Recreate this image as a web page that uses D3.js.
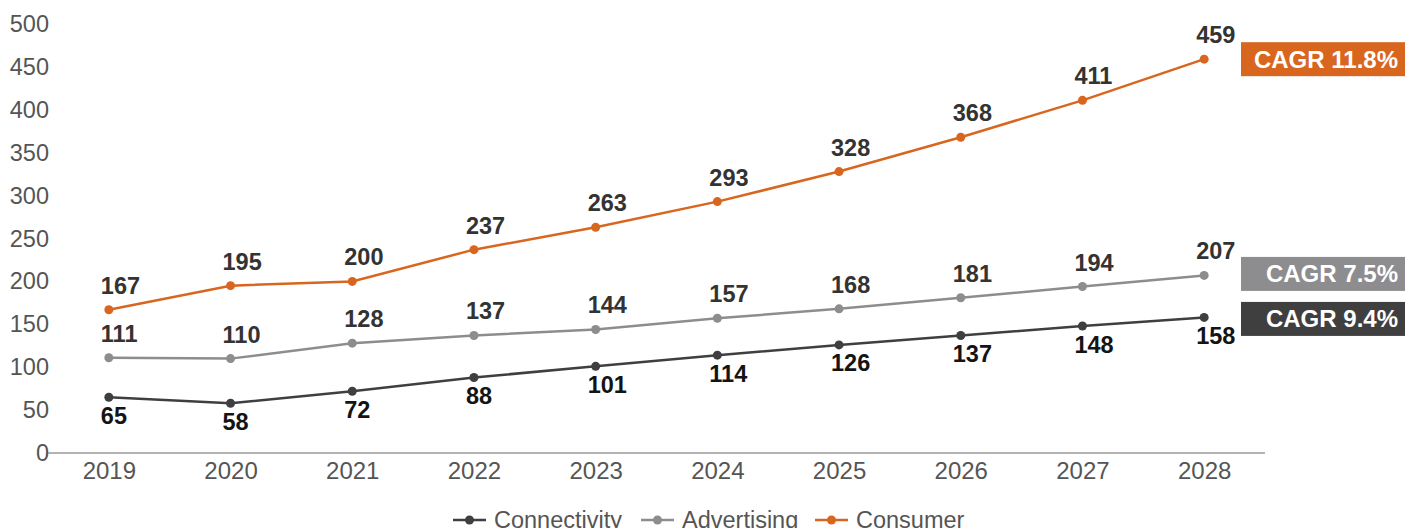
<!DOCTYPE html>
<html>
<head>
<meta charset="utf-8">
<script src="https://cdn.jsdelivr.net/npm/d3@7"></script>
<style>
  html, body { margin: 0; padding: 0; background: #fff; }
  svg { display: block; font-family: "Liberation Sans", Arial, Helvetica, sans-serif; }
</style>
</head>
<body>
<svg id="chart" width="1405" height="528"></svg>
<script>
// Years on the x axis
const years = ["2019", "2020", "2021", "2022", "2023", "2024", "2025", "2026", "2027", "2028"];

// Series values
const connectivity = [65, 58, 72, 88, 101, 114, 126, 137, 148, 158];
const advertising  = [111, 110, 128, 137, 144, 157, 168, 181, 194, 207];
const consumer     = [167, 195, 200, 237, 263, 293, 328, 368, 411, 459];

// Series names and growth rates
const seriesNames = ["Connectivity", "Advertising", "Consumer"];
const cagrLabels  = ["CAGR 9.4%", "CAGR 7.5%", "CAGR 11.8%"];

// Y axis ticks
const yTicks = [0, 50, 100, 150, 200, 250, 300, 350, 400, 450, 500];

const colors = { Connectivity: "#3f3f3f", Advertising: "#8d8d8f", Consumer: "#d8661f" };
const labelColors = { Connectivity: "#141414", Advertising: "#333333", Consumer: "#333333" };

const series = [
  { name: seriesNames[0], values: connectivity, cagr: cagrLabels[0], labelPos: "below" },
  { name: seriesNames[1], values: advertising,  cagr: cagrLabels[1], labelPos: "above" },
  { name: seriesNames[2], values: consumer,     cagr: cagrLabels[2], labelPos: "above" }
];

const svg = d3.select("#chart");
const plotLeft = 48, plotRight = 1265, plotTop = 24, plotBottom = 453;

const x = d3.scalePoint().domain(years).range([plotLeft, plotRight]).padding(0.5);
const y = d3.scaleLinear().domain([0, 500]).range([plotBottom, plotTop]);

// Y tick labels (no axis line)
const yAxis = svg.append("g")
  .attr("transform", `translate(${plotLeft},0)`)
  .call(d3.axisLeft(y).tickValues(yTicks).tickSize(0).tickPadding(-1));
yAxis.select(".domain").remove();
yAxis.selectAll("text")
  .attr("font-size", 23.5)
  .attr("fill", "#555")
  .attr("font-family", "Liberation Sans, Arial, sans-serif");

// X axis baseline and year labels
const xAxis = svg.append("g")
  .attr("transform", `translate(0,${plotBottom})`)
  .call(d3.axisBottom(x).tickSize(0).tickPadding(9));
xAxis.select(".domain")
  .attr("stroke", "#9a9a9a")
  .attr("stroke-width", 1.5)
  .attr("d", `M${plotLeft},0H${plotRight}`);
xAxis.selectAll("text")
  .attr("font-size", 24)
  .attr("fill", "#555")
  .attr("dy", "0.71em")
  .attr("font-family", "Liberation Sans, Arial, sans-serif");

const line = d3.line()
  .x((d, i) => x(years[i]))
  .y(d => y(d));

series.forEach(s => {
  const g = svg.append("g");
  g.append("path")
    .datum(s.values)
    .attr("fill", "none")
    .attr("stroke", colors[s.name])
    .attr("stroke-width", 2.5)
    .attr("d", line);
  g.selectAll("circle")
    .data(s.values)
    .join("circle")
    .attr("cx", (d, i) => x(years[i]))
    .attr("cy", d => y(d))
    .attr("r", 4.5)
    .attr("fill", colors[s.name]);
  g.selectAll("text")
    .data(s.values)
    .join("text")
    .attr("x", (d, i) => x(years[i]) - 8)
    .attr("y", d => s.labelPos === "above" ? y(d) - 16 : y(d) + 26.5)
    .attr("text-anchor", "start")
    .attr("font-size", 23.5)
    .attr("font-weight", "bold")
    .attr("fill", labelColors[s.name])
    .text(d => d);
});

// CAGR tags beside the last point of each series
const boxH = 34, boxX = 1241, boxW = 164, minGap = 45;
const tags = series.map(s => ({ s, cy: y(s.values[s.values.length - 1]) }))
  .sort((a, b) => a.cy - b.cy);
for (let i = 1; i < tags.length; i++) {
  const gap = tags[i].cy - tags[i - 1].cy;
  if (gap < minGap) {
    const shift = (minGap - gap) / 2;
    tags[i - 1].cy -= shift;
    tags[i].cy += shift;
  }
}
tags.forEach(t => {
  svg.append("rect")
    .attr("x", boxX).attr("y", t.cy - boxH / 2)
    .attr("width", boxW).attr("height", boxH)
    .attr("fill", colors[t.s.name]);
  svg.append("text")
    .attr("x", 1398).attr("y", t.cy + 8.5)
    .attr("text-anchor", "end")
    .attr("font-size", 24)
    .attr("font-weight", "bold")
    .attr("fill", "#fff")
    .text(t.s.cagr);
});

// Legend
const legendItems = [
  { name: seriesNames[0], lx: 453 },
  { name: seriesNames[1], lx: 641 },
  { name: seriesNames[2], lx: 815 }
];
const ly = 520;
const legend = svg.append("g");
legendItems.forEach(it => {
  legend.append("line")
    .attr("x1", it.lx).attr("x2", it.lx + 33)
    .attr("y1", ly).attr("y2", ly)
    .attr("stroke", colors[it.name]).attr("stroke-width", 2.5);
  legend.append("circle")
    .attr("cx", it.lx + 16.5).attr("cy", ly).attr("r", 4.5)
    .attr("fill", colors[it.name]);
  legend.append("text")
    .attr("x", it.lx + 41).attr("y", ly + 8)
    .attr("font-size", 23.5)
    .attr("fill", "#555")
    .text(it.name);
});
</script>
</body>
</html>
